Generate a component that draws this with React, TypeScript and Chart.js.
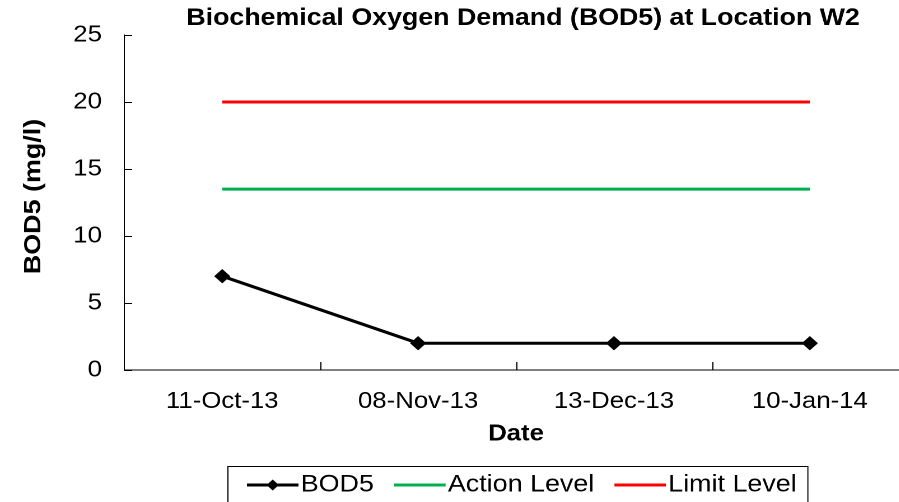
import React, { useEffect, useRef } from "react";
import { Chart, registerables } from "chart.js";

Chart.register(...registerables);

const categories = ["11-Oct-13", "08-Nov-13", "13-Dec-13", "10-Jan-14"];
const bod5 = [7, 2, 2, 2];
const actionLevel = [13.5, 13.5, 13.5, 13.5];
const limitLevel = [20, 20, 20, 20];

const TITLE = "Biochemical Oxygen Demand (BOD5) at Location W2";
const Y_TITLE = "BOD5 (mg/l)";
const X_TITLE = "Date";

const GREEN = "#00B050";
const RED = "#FF0000";
const FONT = "'Liberation Sans', Arial, sans-serif";
const SX = 1.12;
const CW = 818;
const CH = 502;

export default function App() {
  const ref = useRef<HTMLCanvasElement>(null);

  useEffect(() => {
    document.body.style.margin = "0";
    const canvas = ref.current;
    if (!canvas) return;

    const innerTicks = {
      id: "innerTicks",
      afterDraw(chart: any) {
        const { ctx, chartArea: a } = chart;
        const xs = chart.scales.x;
        const ys = chart.scales.y;
        ctx.save();
        ctx.strokeStyle = "#000";
        ctx.lineWidth = 1;
        ctx.beginPath();
        ys.ticks.forEach((t: any) => {
          const py = Math.round(ys.getPixelForValue(t.value)) + 0.5;
          ctx.moveTo(a.left, py);
          ctx.lineTo(a.left + 7, py);
        });
        for (let i = 1; i < categories.length; i++) {
          const px =
            Math.round((xs.getPixelForValue(i - 1) + xs.getPixelForValue(i)) / 2) + 0.5;
          ctx.moveTo(px, a.bottom);
          ctx.lineTo(px, a.bottom - 8);
        }
        ctx.stroke();
        ctx.restore();
      },
    };

    const titleAndLegend = {
      id: "titleAndLegend",
      afterDraw(chart: any) {
        const { ctx, chartArea: a } = chart;
        ctx.save();
        // Chart title
        ctx.fillStyle = "#000";
        ctx.font = `bold 23.9px ${FONT}`;
        ctx.textAlign = "center";
        ctx.textBaseline = "middle";
        ctx.fillText(TITLE, 467, 18.5);

        // Y axis title (rotated, stretched along its length)
        ctx.save();
        ctx.translate(30, (a.top + a.bottom) / 2 - 6);
        ctx.rotate(-Math.PI / 2);
        ctx.scale(SX, 1 / SX);
        ctx.font = `bold 24px ${FONT}`;
        ctx.fillText(Y_TITLE, 0, 0);
        ctx.restore();

        // Legend
        const items = [
          { label: "BOD5", color: "#000", marker: true },
          { label: "Action Level", color: GREEN, marker: false },
          { label: "Limit Level", color: RED, marker: false },
        ];
        ctx.font = `24px ${FONT}`;
        const symW = 46;
        const gapT = 2;
        const gapI = 18;
        const padL = 17;
        const padR = 10;
        const boxL = 203.5;
        const boxT = 466.5;
        const cy = 485;
        let x = boxL + padL;
        ctx.textAlign = "left";
        items.forEach((it, i) => {
          ctx.strokeStyle = it.color;
          ctx.lineWidth = 3;
          ctx.beginPath();
          ctx.moveTo(x, cy);
          ctx.lineTo(x + symW, cy);
          ctx.stroke();
          if (it.marker) {
            const mx = x + symW / 2;
            const r = 5.5;
            ctx.fillStyle = "#000";
            ctx.beginPath();
            ctx.moveTo(mx, cy - r);
            ctx.lineTo(mx + r, cy);
            ctx.lineTo(mx, cy + r);
            ctx.lineTo(mx - r, cy);
            ctx.closePath();
            ctx.fill();
          }
          x += symW + gapT;
          ctx.fillStyle = "#000";
          ctx.fillText(it.label, x, cy);
          x += ctx.measureText(it.label).width;
          if (i < items.length - 1) x += gapI;
        });
        ctx.strokeStyle = "#000";
        ctx.lineWidth = 1;
        ctx.strokeRect(boxL, boxT, x + padR - boxL, 40);
        ctx.restore();
      },
    };

    const chart = new Chart(canvas, {
      type: "line",
      data: {
        labels: categories,
        datasets: [
          {
            label: "BOD5",
            data: bod5,
            borderColor: "#000",
            backgroundColor: "#000",
            borderWidth: 3,
            pointStyle: "rectRot",
            pointRadius: 6.5,
            pointBorderWidth: 1,
            pointBackgroundColor: "#000",
            pointBorderColor: "#000",
            tension: 0,
          },
          {
            label: "Action Level",
            data: actionLevel,
            borderColor: GREEN,
            backgroundColor: GREEN,
            borderWidth: 3,
            pointRadius: 0,
            tension: 0,
          },
          {
            label: "Limit Level",
            data: limitLevel,
            borderColor: RED,
            backgroundColor: RED,
            borderWidth: 3,
            pointRadius: 0,
            tension: 0,
          },
        ],
      },
      options: {
        animation: false,
        responsive: false,
        maintainAspectRatio: false,
        devicePixelRatio: 2,
        layout: { padding: { top: 35, bottom: 36, left: 0, right: 2 } },
        plugins: {
          legend: { display: false },
          title: { display: false },
          tooltip: { enabled: false },
        },
        scales: {
          x: {
            type: "category",
            offset: true,
            grid: { display: false, drawTicks: false, offset: true },
            border: { display: true, color: "#000", width: 1 },
            ticks: {
              color: "#000",
              font: { family: FONT, size: 23 },
              padding: 18,
              maxRotation: 0,
              autoSkip: false,
            },
            title: {
              display: true,
              text: X_TITLE,
              color: "#000",
              font: { family: FONT, size: 23, weight: "bold" },
              padding: { top: 0, bottom: 18 },
            },
            afterFit(scale: any) {
              scale.height = 96;
            },
          },
          y: {
            min: 0,
            max: 25,
            grid: { display: false, drawTicks: false },
            border: { display: true, color: "#000", width: 1 },
            ticks: {
              stepSize: 5,
              color: "#000",
              font: { family: FONT, size: 23 },
              padding: 20,
            },
            title: { display: false, text: Y_TITLE },
            afterFit(scale: any) {
              scale.width = 111;
            },
          },
        },
      },
      plugins: [innerTicks, titleAndLegend],
    } as any);

    return () => chart.destroy();
  }, []);

  return (
    <div
      style={{
        position: "fixed",
        left: 0,
        top: 0,
        width: 899,
        height: 502,
        overflow: "hidden",
        background: "#fff",
      }}
    >
      <div
        style={{
          position: "absolute",
          left: 0,
          top: 0,
          width: CW,
          height: CH,
          transform: `scaleX(${SX})`,
          transformOrigin: "0 0",
        }}
      >
        <canvas ref={ref} width={CW} height={CH} style={{ display: "block" }} />
      </div>
    </div>
  );
}
